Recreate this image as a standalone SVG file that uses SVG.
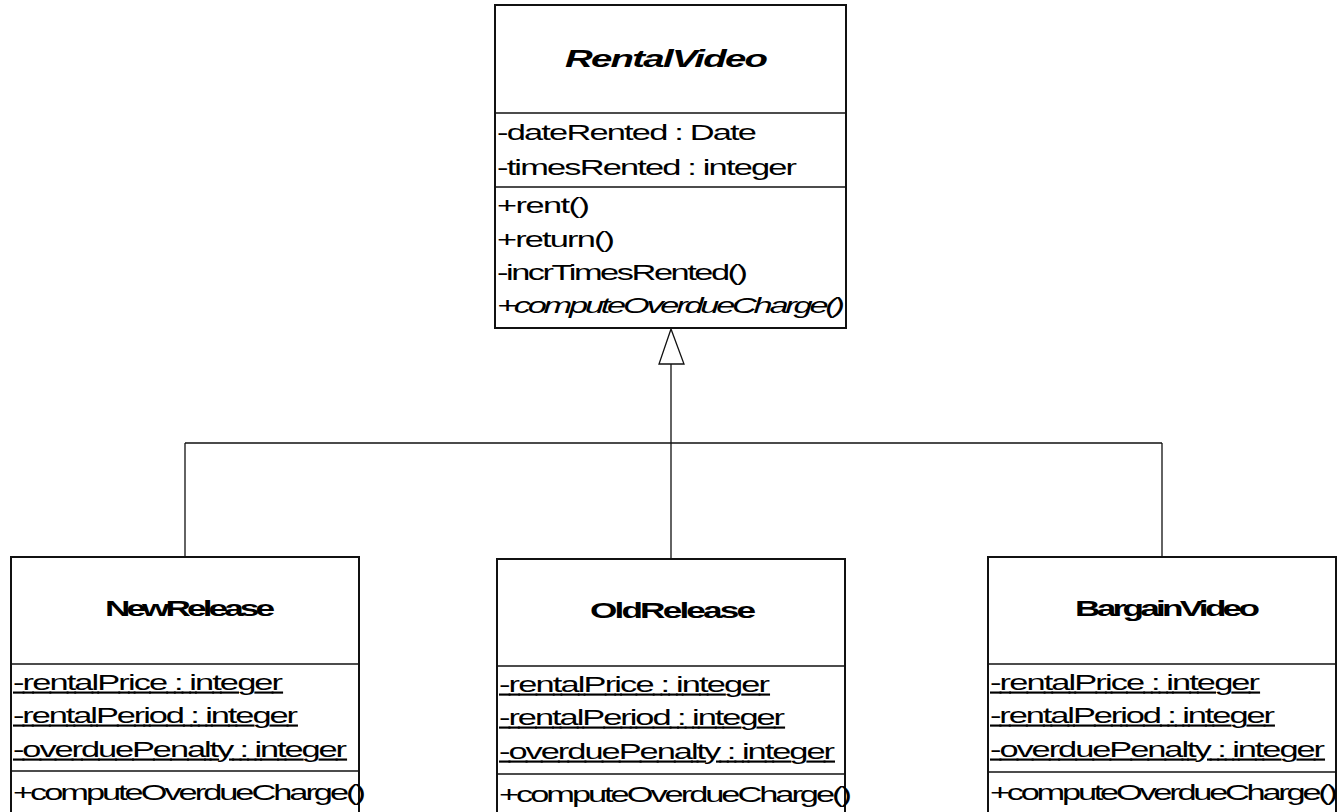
<svg xmlns="http://www.w3.org/2000/svg" width="1340" height="812" viewBox="0 0 1340 812">
  <style>
    .box { fill: #ffffff; stroke: #111111; stroke-width: 2; }
    .div { stroke: #111111; stroke-width: 1.6; }
    .conn { fill: none; stroke: #111111; stroke-width: 1.3; }
    .head { fill: #ffffff; stroke: #111111; stroke-width: 1.3; }
    text { font-family: "Liberation Sans", Arial, sans-serif; fill: #000000; }
    .title { font-size: 22px; font-weight: bold; }
    .big { font-size: 24px; }
    .abs { font-style: italic; }
    .item { font-size: 21.5px; }
    .static { text-decoration: underline; }
  </style>

  <rect width="1340" height="812" fill="#ffffff"/>

  <!-- generalization connectors -->
  <g id="connectors">
    <path class="conn" d="M671,364 V559 M185,443 H1162 M185,443 V557 M1162,443 V557"/>
    <polygon class="head" points="671,329 659,364 684,364"/>
  </g>

  <!-- labels: glyphs widened 1.6x, spacing tightened to fit the run length -->
  <g id="RentalVideo">
    <rect class="box" x="495" y="5" width="351" height="323"/>
    <line class="div" x1="495" y1="113" x2="846" y2="113"/>
    <line class="div" x1="495" y1="187" x2="846" y2="187"/>
    <text class="title big abs" transform="translate(565,67) scale(1.6,1)" textLength="126.9" lengthAdjust="spacing">RentalVideo</text>
    <text class="item" transform="translate(497,140) scale(1.6,1)" textLength="162.5" lengthAdjust="spacing">-dateRented : Date</text>
    <text class="item" transform="translate(497,175) scale(1.6,1)" textLength="187.5" lengthAdjust="spacing">-timesRented : integer</text>
    <text class="item" transform="translate(497,213) scale(1.6,1)" textLength="58.1" lengthAdjust="spacing">+rent()</text>
    <text class="item" transform="translate(497,247) scale(1.6,1)" textLength="73.8" lengthAdjust="spacing">+return()</text>
    <text class="item" transform="translate(497,280) scale(1.6,1)" textLength="156.9" lengthAdjust="spacing">-incrTimesRented()</text>
    <text class="item abs" transform="translate(497,313) scale(1.6,1)" textLength="217.5" lengthAdjust="spacing">+computeOverdueCharge()</text>
  </g>

  <g id="NewRelease">
    <rect class="box" x="11" y="557" width="348" height="270"/>
    <line class="div" x1="11" y1="664" x2="359" y2="664"/>
    <line class="div" x1="11" y1="771" x2="359" y2="771"/>
    <text class="title" transform="translate(105,616) scale(1.6,1)" textLength="106.3" lengthAdjust="spacing">NewRelease</text>
    <text class="item static" transform="translate(13,690) scale(1.6,1)" textLength="168.8" lengthAdjust="spacing">-rentalPrice : integer</text>
    <text class="item static" transform="translate(13,723) scale(1.6,1)" textLength="178.1" lengthAdjust="spacing">-rentalPeriod : integer</text>
    <text class="item static" transform="translate(13,757) scale(1.6,1)" textLength="208.8" lengthAdjust="spacing">-overduePenalty : integer</text>
    <text class="item" transform="translate(13,800) scale(1.6,1)" textLength="220.6" lengthAdjust="spacing">+computeOverdueCharge()</text>
  </g>

  <g id="OldRelease">
    <rect class="box" x="497" y="559" width="348" height="270"/>
    <line class="div" x1="497" y1="666" x2="845" y2="666"/>
    <line class="div" x1="497" y1="774" x2="845" y2="774"/>
    <text class="title" transform="translate(590,618) scale(1.6,1)" textLength="103.8" lengthAdjust="spacing">OldRelease</text>
    <text class="item static" transform="translate(499,692) scale(1.6,1)" textLength="169.4" lengthAdjust="spacing">-rentalPrice : integer</text>
    <text class="item static" transform="translate(499,725) scale(1.6,1)" textLength="178.8" lengthAdjust="spacing">-rentalPeriod : integer</text>
    <text class="item static" transform="translate(499,759) scale(1.6,1)" textLength="210" lengthAdjust="spacing">-overduePenalty : integer</text>
    <text class="item" transform="translate(499,802) scale(1.6,1)" textLength="220.6" lengthAdjust="spacing">+computeOverdueCharge()</text>
  </g>

  <g id="BargainVideo">
    <rect class="box" x="988" y="557" width="348" height="270"/>
    <line class="div" x1="988" y1="664" x2="1336" y2="664"/>
    <line class="div" x1="988" y1="772" x2="1336" y2="772"/>
    <text class="title" transform="translate(1075,616) scale(1.6,1)" textLength="115.6" lengthAdjust="spacing">BargainVideo</text>
    <text class="item static" transform="translate(990,690) scale(1.6,1)" textLength="168.8" lengthAdjust="spacing">-rentalPrice : integer</text>
    <text class="item static" transform="translate(990,723) scale(1.6,1)" textLength="178.1" lengthAdjust="spacing">-rentalPeriod : integer</text>
    <text class="item static" transform="translate(990,757) scale(1.6,1)" textLength="209.4" lengthAdjust="spacing">-overduePenalty : integer</text>
    <text class="item" transform="translate(990,800) scale(1.6,1)" textLength="217.5" lengthAdjust="spacing">+computeOverdueCharge()</text>
  </g>
</svg>
